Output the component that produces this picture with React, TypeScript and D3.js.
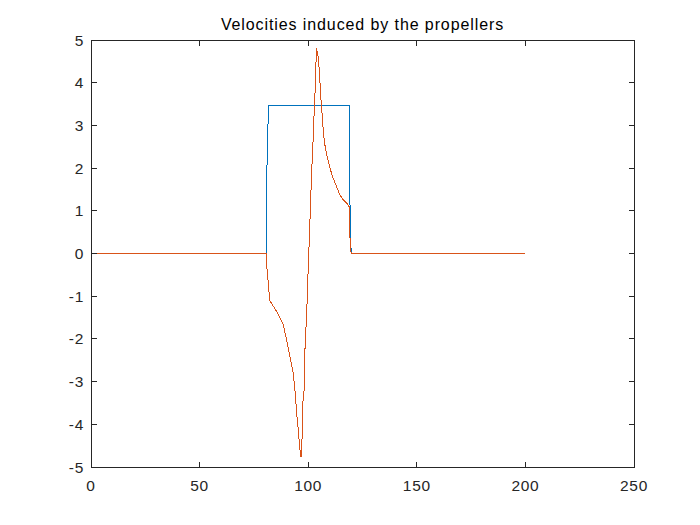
import React from "react";
import * as d3 from "d3";

const TITLE = "Velocities induced by the propellers";
const X_TICKS = [0, 50, 100, 150, 200, 250];
const Y_TICKS = [-5, -4, -3, -2, -1, 0, 1, 2, 3, 4, 5];

const BLUE_X = [0, 80.6, 80.6, 80.9, 81.35, 81.95, 118.9, 119.0, 119.3, 119.6, 119.8, 200];
const BLUE_Y = [0, 0, 0.6, 1.72, 2.89, 3.47, 3.47, 2.6, 0.86, 0.28, 0, 0];

const ORANGE_X = [0, 80.6, 80.7, 81.3, 81.9, 82.2, 83.5, 85.5, 87, 88.5, 90.1, 91.6, 93.1, 93.9, 94.7, 95.1, 95.7, 96.2, 96.7, 97.1, 97.6, 98.1, 98.5, 99, 99.6, 100, 100.5, 101.3, 101.6, 102.1, 102.4, 102.8, 103.2, 103.8, 104.6, 105.1, 105.5, 106.0, 106.5, 107, 107.7, 108.5, 109.3, 110, 111.5, 113.1, 114.6, 116.2, 117.7, 118.8, 119.0, 119.3, 119.5, 119.8, 200];
const ORANGE_Y = [0, 0, -0.2, -0.5, -0.85, -1.09, -1.2, -1.36, -1.5, -1.67, -2.03, -2.42, -2.8, -3.2, -3.74, -3.95, -4.3, -4.6, -4.76, -4.45, -3.45, -3.2, -2.26, -1.71, -1.01, -0.34, 0.32, 1.49, 1.96, 2.42, 2.89, 3.36, 3.83, 4.81, 4.6, 4.3, 3.95, 3.5, 3.2, 2.82, 2.54, 2.31, 2.15, 2.0, 1.76, 1.56, 1.37, 1.25, 1.18, 1.1, 0.83, 0.28, 0.1, 0, 0];

const W = 700;
const H = 525;
const L = 91, R = 634, T = 40, B = 467;
const AX = "#262626";
const FONT = "'Liberation Sans', Arial, Helvetica, sans-serif";

export default function App() {
  const x = d3.scaleLinear().domain([0, 250]).range([L, R]);
  const y = d3.scaleLinear().domain([-5, 5]).range([B, T]);
  const line = d3
    .line<[number, number]>()
    .x((d) => x(d[0]))
    .y((d) => y(d[1]));
  const blue = BLUE_X.map((v, i) => [v, BLUE_Y[i]] as [number, number]);
  const orange = ORANGE_X.map((v, i) => [v, ORANGE_Y[i]] as [number, number]);
  const tl = 5.5;
  return (
    <svg
      width={W}
      height={H}
      style={{ position: "fixed", left: 0, top: 0, background: "#fff" }}
      fontFamily={FONT}
    >
      <rect x={0} y={0} width={W} height={H} fill="#fff" />
      <path d={line(blue) || ""} fill="none" stroke="#0072BD" strokeWidth={1} shapeRendering="crispEdges" />
      <path d={line(orange) || ""} fill="none" stroke="#D95319" strokeWidth={1} shapeRendering="crispEdges" />
      <rect x={L} y={T} width={R - L} height={B - T} fill="none" stroke={AX} strokeWidth={1} shapeRendering="crispEdges" />
      {X_TICKS.map((t) => (
        <g key={"x" + t}>
          <line x1={x(t)} x2={x(t)} y1={B} y2={B - tl} stroke={AX} shapeRendering="crispEdges" />
          <line x1={x(t)} x2={x(t)} y1={T} y2={T + tl} stroke={AX} shapeRendering="crispEdges" />
          <text x={x(t)} y={491} textAnchor="middle" fontSize={15.5} fill={AX} letterSpacing={0.7}>
            {t}
          </text>
        </g>
      ))}
      {Y_TICKS.map((t) => (
        <g key={"y" + t}>
          <line x1={L} x2={L + tl} y1={y(t)} y2={y(t)} stroke={AX} shapeRendering="crispEdges" />
          <line x1={R} x2={R - tl} y1={y(t)} y2={y(t)} stroke={AX} shapeRendering="crispEdges" />
          <text x={84} y={y(t) + 5.5} textAnchor="end" fontSize={15.5} fill={AX} letterSpacing={0.7}>
            {t}
          </text>
        </g>
      ))}
      <text x={(L + R) / 2} y={30} textAnchor="middle" fontSize={16} fill="#000" letterSpacing={0.9}>
        {TITLE}
      </text>
    </svg>
  );
}
